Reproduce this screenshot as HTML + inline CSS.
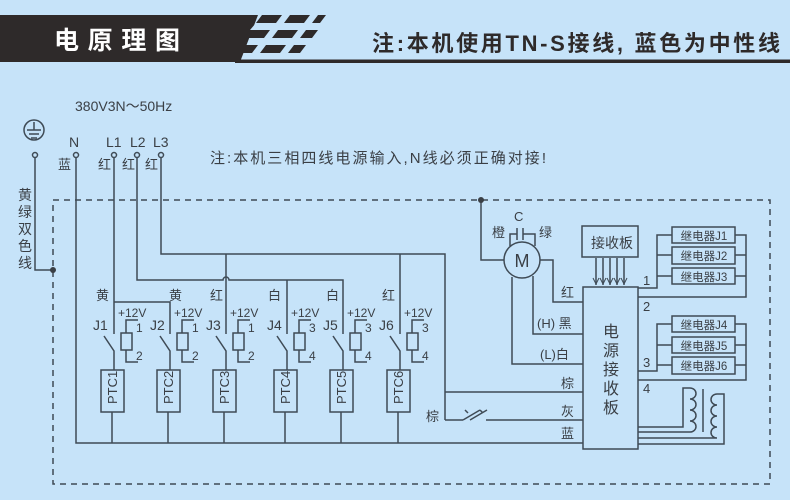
<!DOCTYPE html><html><head><meta charset="utf-8"><style>body{margin:0;background:#c6e3f9}svg{display:block}text{font-family:"Liberation Sans","Noto Sans CJK SC",sans-serif;fill:#3a3f45}</style></head><body>
<svg width="790" height="500" viewBox="0 0 790 500" xmlns="http://www.w3.org/2000/svg">
<rect width="790" height="500" fill="#c6e3f9"/>
<polygon points="0,15 258,15 240,62 0,62" fill="#2e2a2a"/>
<rect x="235" y="59.5" width="555" height="3.5" fill="#2e2a2a"/>
<g fill="#2e2a2a">
<polygon points="262,15 282,15 276,23 256,23"/><polygon points="290,15 310,15 304,23 284,23"/><polygon points="318,15 326,15 320,23 312,23"/>
<polygon points="250,30 270,30 264,38 244,38"/><polygon points="278,30 298,30 292,38 272,38"/><polygon points="306,30 318,30 312,38 300,38"/>
<polygon points="240,45 258,45 252,53 234,53"/><polygon points="266,45 286,45 280,53 260,53"/><polygon points="294,45 306,45 300,53 288,53"/>
<polygon points="256,23 276,23 270,30 250,30" fill="#c6e3f9"/>
</g>
<text x="54" y="49" font-size="25" font-weight="bold" style="fill:#fff" textLength="126">电原理图</text>
<text x="372" y="51" font-size="22" font-weight="bold" style="fill:#2e2a2a" textLength="408">注:本机使用TN-S接线, 蓝色为中性线</text>

<g stroke="#3f4b56" stroke-width="1.5" fill="none">
<path d="M53 200 H770 V484 H53 Z" stroke-dasharray="6,5"/>
<circle cx="34" cy="130" r="10"/>
<path d="M34 122 V130 M27 130 H41 M29 134 H39 M31 138 H37"/>
<circle cx="35" cy="155" r="2.5" fill="#c6e3f9"/>
<path d="M35 158 V270 H53"/>
<circle cx="76" cy="155" r="2.5"/><circle cx="114" cy="155" r="2.5"/><circle cx="137" cy="155" r="2.5"/><circle cx="161" cy="155" r="2.5"/>
<path d="M76 158 V443 H583"/>
<path d="M114 158 V334 M114 302 H170 V334"/>
<path d="M137 158 V280 H223 A3 3 0 0 1 229 280 H343 V334 M287 280 V334"/>
<path d="M161 158 V254 H445 V420 M226 254 V334 M400 254 V334"/>
<path d="M445 392 H583 M445 420 H463 M486 420 H583"/>
<path d="M463 420 L480 410 M470 420 L487 410 M468 413 l-3 -3 M483 413 l-3 -3"/>
<g id="r">
<path d="M104 336 L114 351 V370 M112 412 V443"/>
<rect x="101" y="370" width="23" height="42"/>
<rect x="121" y="333" width="11" height="17"/>
<path d="M126 333 V320 H138 M126 350 V362 H138"/>
</g>
<use href="#r" x="56"/><use href="#r" x="112"/><use href="#r" x="173"/><use href="#r" x="229"/><use href="#r" x="286"/>
<circle cx="522" cy="260" r="18"/>
<path d="M510 246 V234 H517 M517 228 V240 M523 228 V240 M523 234 H535 V246"/>
<path d="M504 260 H481 V200 M540 260 H553 V302 H583 M533 276 V334 H583 M512 277 V364 H583"/>
<rect x="583" y="287" width="55" height="162"/>
<rect x="582" y="226" width="56" height="31"/>
<path d="M596 258 V285 M603 258 V285 M610 258 V285 M617 258 V285 M624 258 V285"/>
<path d="M593 278 l3 6 l3 -6 M600 278 l3 6 l3 -6 M607 278 l3 6 l3 -6 M614 278 l3 6 l3 -6 M621 278 l3 6 l3 -6" stroke-width="1"/>
<rect x="672" y="227" width="63" height="16"/><rect x="672" y="247" width="63" height="17"/><rect x="672" y="268" width="63" height="16"/>
<rect x="672" y="316" width="63" height="16"/><rect x="672" y="337" width="63" height="16"/><rect x="672" y="357" width="63" height="17"/>
<path d="M638 288 H657 V235 H672 M657 255 H672 M657 276 H672 M735 235 H746 V297 H638 M735 255 H746 M735 276 H746"/>
<path d="M638 371 H657 V324 H672 M657 345 H672 M657 365 H672 M735 324 H746 V380 H638 M735 345 H746 M735 365 H746"/>
<path d="M638 427 H683 V388 H690 a6 5.5 0 0 1 0 11 a6 5.5 0 0 1 0 11 a6 5.5 0 0 1 0 11 a6 5.5 0 0 1 0 11 H638"/>
<path d="M703 389 V432"/>
<path d="M638 438 H717 a6 5.5 0 0 1 0 -11 a6 5.5 0 0 1 0 -11 a6 5.5 0 0 1 0 -11 a6 5.5 0 0 1 0 -11 H724 V444 H638"/>
</g>
<g fill="#3a3f45"><circle cx="53" cy="270" r="3"/><circle cx="481" cy="200" r="3"/></g>

<g font-size="13">
<text x="75" y="111" font-size="14">380V3N～50Hz</text>
<text x="69" y="147" font-size="14">N</text><text x="106" y="147" font-size="14">L1</text><text x="130" y="147" font-size="14">L2</text><text x="153" y="147" font-size="14">L3</text>
<text x="58" y="169">蓝</text><text x="98" y="169">红</text><text x="122" y="169">红</text><text x="145" y="169">红</text>
<text x="18" y="200" font-size="14">黄</text><text x="18" y="217" font-size="14">绿</text><text x="18" y="234" font-size="14">双</text><text x="18" y="251" font-size="14">色</text><text x="18" y="268" font-size="14">线</text>
<text x="210" y="163" font-size="15" textLength="336">注:本机三相四线电源输入,N线必须正确对接!</text>
<text x="96" y="300">黄</text><text x="169" y="300">黄</text><text x="210" y="300">红</text><text x="268" y="300">白</text><text x="326" y="300">白</text><text x="382" y="300">红</text>
</g>
<g font-size="12">
<text x="118" y="317">+12V</text><text x="174" y="317">+12V</text><text x="230" y="317">+12V</text><text x="291" y="317">+12V</text><text x="347" y="317">+12V</text><text x="404" y="317">+12V</text>
<text x="136" y="332">1</text><text x="136" y="360">2</text><text x="192" y="332">1</text><text x="192" y="360">2</text><text x="248" y="332">1</text><text x="248" y="360">2</text>
<text x="309" y="332">3</text><text x="309" y="360">4</text><text x="365" y="332">3</text><text x="365" y="360">4</text><text x="422" y="332">3</text><text x="422" y="360">4</text>
</g>
<g font-size="14">
<text x="93" y="330">J1</text><text x="150" y="330">J2</text><text x="206" y="330">J3</text><text x="267" y="330">J4</text><text x="323" y="330">J5</text><text x="379" y="330">J6</text>
</g>
<g font-size="13">
<text transform="translate(117,404) rotate(-90)">PTC1</text><text transform="translate(173,404) rotate(-90)">PTC2</text><text transform="translate(229,404) rotate(-90)">PTC3</text><text transform="translate(290,404) rotate(-90)">PTC4</text><text transform="translate(346,404) rotate(-90)">PTC5</text><text transform="translate(403,404) rotate(-90)">PTC6</text>
</g>
<g font-size="13">
<text x="426" y="421">棕</text>
<text x="514" y="221">C</text><text x="492" y="237">橙</text><text x="539" y="237">绿</text>
<text x="561" y="297">红</text><text x="537" y="328">(H) 黑</text><text x="540" y="359">(L)白</text>
<text x="561" y="388">棕</text><text x="561" y="416">灰</text><text x="561" y="438">蓝</text>
<text x="643" y="285">1</text><text x="643" y="311">2</text><text x="643" y="367">3</text><text x="643" y="393">4</text>
</g>
<text x="591" y="248" font-size="14">接收板</text>
<g font-size="16" text-anchor="middle"><text x="611" y="337">电</text><text x="611" y="356">源</text><text x="611" y="375">接</text><text x="611" y="394">收</text><text x="611" y="413">板</text></g>
<g font-size="11.5" text-anchor="middle"><text x="704" y="240">继电器J1</text><text x="704" y="260">继电器J2</text><text x="704" y="281">继电器J3</text><text x="704" y="329">继电器J4</text><text x="704" y="350">继电器J5</text><text x="704" y="370">继电器J6</text></g>
<text x="522" y="267" font-size="18" text-anchor="middle">M</text>
</svg></body></html>
